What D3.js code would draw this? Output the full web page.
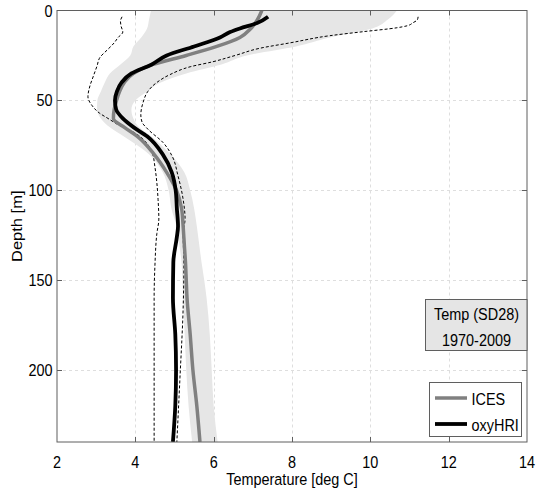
<!DOCTYPE html>
<html>
<head>
<meta charset="utf-8">
<script src="https://cdn.jsdelivr.net/npm/d3@7"></script>
<style>
  body { margin: 0; background: #fff; }
  svg { display: block; }
  text { font-family: "Liberation Sans", Arial, Helvetica, sans-serif; fill: #000; }
</style>
</head>
<body>
<svg id="chart" width="539" height="497"></svg>
<script>
// Temperature profiles, Baltic SD28, 1970-2009 (depth in m, temperature in deg C)

// Shaded spread of the ICES profiles
const bandDepth = [0, 5, 10, 15, 20, 25, 30, 35, 40, 45, 50, 55, 60, 65, 70, 80, 90, 100, 110, 120, 130, 140, 150, 160, 180, 200, 220, 240];
const bandLow   = [4.4, 4.35, 4.3, 4.15, 3.95, 3.87, 3.62, 3.35, 3.22, 3.12, 3.03, 3.02, 3.12, 3.35, 3.7, 4.35, 4.7, 4.85, 4.92, 5.05, 5.12, 5.18, 5.2, 5.22, 5.26, 5.3, 5.36, 5.45];
const bandHigh  = [10.68, 10.45, 10.05, 8.97, 8.1, 6.85, 6.2, 5.3, 4.65, 4.3, 4.0, 3.9, 3.95, 4.1, 4.4, 4.9, 5.25, 5.4, 5.5, 5.57, 5.63, 5.69, 5.76, 5.82, 5.9, 5.95, 6.0, 6.1];

// Dashed envelope of the oxyHRI profiles
const minDepth = [3.5, 6, 9, 12, 15, 18, 22, 26, 31, 37, 42, 48, 53, 57, 60, 64, 68, 74, 79, 87, 96, 105, 116, 124, 142, 160, 200, 240];
const minTemp  = [3.66, 3.62, 3.64, 3.68, 3.56, 3.46, 3.28, 3.1, 3.02, 2.92, 2.84, 2.79, 2.9, 3.08, 3.3, 3.6, 3.98, 4.3, 4.43, 4.5, 4.55, 4.58, 4.6, 4.55, 4.5, 4.48, 4.48, 4.48];
const maxDepth = [3.5, 5.2, 6.8, 8.5, 9.6, 11.8, 14, 18, 21, 25, 28.5, 31.3, 35.7, 40, 45, 51, 58, 62, 66, 73.5, 81, 92, 105, 116, 124, 142, 166, 204, 240];
const maxTemp  = [11.22, 11.2, 11.09, 10.94, 10.68, 9.81, 8.97, 7.95, 7.18, 6.55, 5.98, 5.4, 4.88, 4.55, 4.32, 4.2, 4.14, 4.17, 4.32, 4.71, 4.94, 5.09, 5.22, 5.27, 5.22, 5.24, 5.22, 5.14, 5.06];

// Mean profiles
const icesDepth = [0, 5, 10, 15, 20, 25, 30, 35, 40, 45, 50, 55, 60, 65, 70, 80, 90, 100, 110, 120, 130, 140, 150, 160, 180, 200, 220, 240];
const icesTemp  = [7.23, 7.12, 6.95, 6.67, 6.08, 5.3, 4.45, 3.95, 3.72, 3.6, 3.52, 3.46, 3.44, 3.72, 4.05, 4.48, 4.8, 5.05, 5.18, 5.22, 5.25, 5.28, 5.3, 5.32, 5.4, 5.47, 5.57, 5.65];
const hriDepth  = [3.5, 7, 10, 12, 15, 20, 25, 30, 35, 40, 45, 50, 55, 60, 65, 70, 80, 90, 100, 110, 120, 126, 140, 160, 180, 200, 220, 240];
const hriTemp   = [7.39, 7.11, 6.67, 6.42, 6.16, 5.5, 4.8, 4.42, 3.9, 3.65, 3.53, 3.48, 3.51, 3.68, 3.96, 4.3, 4.7, 4.93, 5.03, 5.06, 5.09, 5.06, 4.97, 4.96, 5.02, 5.04, 5.02, 4.96];

// Axes
const xTicks = [2, 4, 6, 8, 10, 12, 14];
const yTicks = [0, 50, 100, 150, 200];
const seriesNames = ["ICES", "oxyHRI"];
const boxLines = ["Temp (SD28)", "1970-2009"];

const svg = d3.select("#chart");
const plot = { left: 57, top: 10.5, right: 527, bottom: 442 };
const x = d3.scaleLinear().domain([2, 14]).range([plot.left, plot.right]);
const y = d3.scaleLinear().domain([0, 240]).range([plot.top, plot.bottom]);

const frameColor = "#5f5f5f";
const fontSize = 16.5;
const squeeze = 0.875;   // narrow the glyphs horizontally

// Place a horizontally squeezed text label
function label(parent, px, py, str, anchor) {
  return parent.append("text")
    .attr("transform", `translate(${px},${py}) scale(${squeeze},1)`)
    .attr("text-anchor", anchor || "start")
    .attr("font-size", fontSize)
    .text(str);
}

svg.append("rect").attr("width", 539).attr("height", 497).attr("fill", "#fff");

// Grid
const grid = svg.append("g").attr("stroke", "#dedede").attr("stroke-width", 1).attr("stroke-dasharray", "3,3");
grid.selectAll(".gx").data(xTicks.slice(1, -1)).join("line")
  .attr("x1", d => Math.round(x(d)) + 0.5).attr("x2", d => Math.round(x(d)) + 0.5)
  .attr("y1", plot.top).attr("y2", plot.bottom);
grid.selectAll(".gy").data(yTicks.slice(1)).join("line")
  .attr("y1", d => Math.round(y(d)) + 0.5).attr("y2", d => Math.round(y(d)) + 0.5)
  .attr("x1", plot.left).attr("x2", plot.right);

svg.append("clipPath").attr("id", "plotclip").append("rect")
  .attr("x", plot.left).attr("y", plot.top)
  .attr("width", plot.right - plot.left).attr("height", plot.bottom - plot.top);
const g = svg.append("g").attr("clip-path", "url(#plotclip)");

// Spread band
const band = d3.area()
  .y((d, i) => y(bandDepth[i]))
  .x0((d, i) => x(bandLow[i]))
  .x1((d, i) => x(bandHigh[i]))
  .curve(d3.curveMonotoneY);
g.append("path").datum(bandDepth).attr("d", band).attr("fill", "#e6e6e6");

const profile = (depths, temps) => d3.line()
  .x((d, i) => x(temps[i]))
  .y((d, i) => y(depths[i]))
  .curve(d3.curveMonotoneY)(depths);

// Envelope
[[minDepth, minTemp], [maxDepth, maxTemp]].forEach(([dep, tmp]) => {
  g.append("path").attr("d", profile(dep, tmp))
    .attr("fill", "none").attr("stroke", "#000").attr("stroke-width", 1)
    .attr("stroke-dasharray", "3,2");
});

// Means
g.append("path").attr("d", profile(icesDepth, icesTemp))
  .attr("fill", "none").attr("stroke", "#808080").attr("stroke-width", 3.5)
  .attr("stroke-linejoin", "round");
g.append("path").attr("d", profile(hriDepth, hriTemp))
  .attr("fill", "none").attr("stroke", "#000").attr("stroke-width", 3.8)
  .attr("stroke-linejoin", "round");

// Frame and inward ticks
svg.append("rect")
  .attr("x", plot.left).attr("y", plot.top)
  .attr("width", plot.right - plot.left).attr("height", plot.bottom - plot.top)
  .attr("fill", "none").attr("stroke", frameColor).attr("stroke-width", 1);

const tk = svg.append("g").attr("stroke", frameColor).attr("stroke-width", 1);
xTicks.slice(1, -1).forEach(t => {
  const px = Math.round(x(t)) + 0.5;
  tk.append("line").attr("x1", px).attr("x2", px).attr("y1", plot.bottom).attr("y2", plot.bottom - 5);
  tk.append("line").attr("x1", px).attr("x2", px).attr("y1", plot.top).attr("y2", plot.top + 5);
});
yTicks.slice(1).forEach(t => {
  const py = Math.round(y(t)) + 0.5;
  tk.append("line").attr("y1", py).attr("y2", py).attr("x1", plot.left).attr("x2", plot.left + 5);
  tk.append("line").attr("y1", py).attr("y2", py).attr("x1", plot.right).attr("x2", plot.right - 5);
});

// Tick labels
const xl = svg.append("g");
xTicks.forEach(t => label(xl, x(t), 468, t, "middle"));
const yl = svg.append("g");
yTicks.forEach(t => label(yl, 52.5, y(t) + 6, t, "end"));

// Axis titles
label(svg, (plot.left + plot.right) / 2, 485, "Temperature [deg C]", "middle");
svg.append("text")
  .attr("transform", `translate(21.5,${(plot.top + plot.bottom) / 2}) scale(${squeeze},1) rotate(-90)`)
  .attr("text-anchor", "middle").attr("font-size", fontSize)
  .text("Depth [m]");

// Annotation box
svg.append("rect").attr("x", 425.5).attr("y", 299.5).attr("width", plot.right - 425.5).attr("height", 51)
  .attr("fill", "#e5e5e5").attr("stroke", frameColor).attr("stroke-width", 1);
boxLines.forEach((s, i) => label(svg, 476.5, 319.5 + i * 26, s, "middle"));

// Legend
const legend = svg.append("g");
legend.append("rect").attr("x", 429.5).attr("y", 382.5).attr("width", 92).attr("height", 54)
  .attr("fill", "#fff").attr("stroke", frameColor).attr("stroke-width", 1);
const legendColors = ["#808080", "#000"];
seriesNames.forEach((name, i) => {
  const ly = 398 + i * 26;
  legend.append("line").attr("x1", 435).attr("x2", 467).attr("y1", ly).attr("y2", ly)
    .attr("stroke", legendColors[i]).attr("stroke-width", i ? 3.8 : 3.5);
  label(legend, 471.5, ly + 7, name);
});
</script>
</body>
</html>
